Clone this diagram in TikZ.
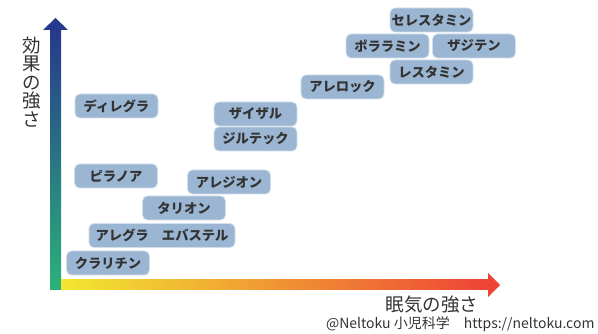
\documentclass[tikz,border=0pt]{standalone}
\usepackage{fontspec}
\newfontfamily\jp{Noto Sans CJK JP}
\usetikzlibrary{arrows}
\definecolor{boxfill}{HTML}{9BB6D3}
\definecolor{boxline}{HTML}{D2DEEA}
\definecolor{txt}{HTML}{333333}
\definecolor{ytop}{HTML}{27398C}
\definecolor{ymid}{HTML}{1C7989}
\definecolor{ybot}{HTML}{2BB27A}
\definecolor{xleft}{HTML}{F2E830}
\definecolor{xmid}{HTML}{F5AE3C}
\definecolor{xright}{HTML}{EE4436}
\tikzset{
  kusuri/.style = {rectangle, rounded corners=5pt, fill=boxfill,
    draw=boxline, line width=0.8pt, minimum width=83pt, minimum height=24pt,
    inner sep=0pt, text=txt, font=\jp\bfseries\fontsize{13.3}{15}\selectfont},% drug box
  kusuri_w/.style = {kusuri, minimum width=146pt},% wide drug box
  jiku/.style = {text=txt, font=\jp\fontsize{18.5}{18.6}\selectfont},% axis label
}
\begin{document}
\begin{tikzpicture}[x=1pt,y=-1pt]
\useasboundingbox (0,0) rectangle (598,334);
% axes
\coordinate (orig) at (55.5,285);
\shade[top color=ytop, middle color=ymid, bottom color=ybot] (50,30) rectangle (61,290);
\fill[ytop] (43,30) -- (55.5,18) -- (68,30) -- cycle;
\shade[left color=xleft, middle color=xmid, right color=xright] (61,280) rectangle (488,290);
\fill[xright] (488,273) -- (500,285) -- (488,297) -- cycle;
\node[jiku, align=center] (ylab) at (32,82) {効\\果\\の\\強\\さ};
\node[jiku] (xlab) at (432,305) {眠気の強さ};
\node[text=txt, font=\jp\fontsize{14}{16}\selectfont, anchor=east] (credit) at (598,324)
  {@Neltoku 小児科学\hspace{1em}https://neltoku.com};
% drugs
\node[kusuri] (celestamine) at (431.5,20) {セレスタミン};
\node[kusuri] (polaramine) at (387.5,46) {ポララミン};
\node[kusuri] (zaditen) at (474,46) {ザジテン};
\node[kusuri] (restamin) at (431.5,72) {レスタミン};
\node[kusuri] (allelock) at (342.5,87) {アレロック};
\node[kusuri] (desalex) at (116.5,106) {ディレグラ};
\node[kusuri] (xyzal) at (255.5,114) {ザイザル};
\node[kusuri] (zyrtec) at (255.5,139) {ジルテック};
\node[kusuri] (bilanoa) at (116,176) {ピラノア};
\node[kusuri] (alesion) at (229,182) {アレジオン};
\node[kusuri] (talion) at (184,208) {タリオン};
\node[kusuri_w] (allegra) at (162,235.5) {アレグラ\hspace{1em}エバステル};
\node[kusuri] (claritin) at (108,263) {クラリチン};
\end{tikzpicture}
\end{document}
